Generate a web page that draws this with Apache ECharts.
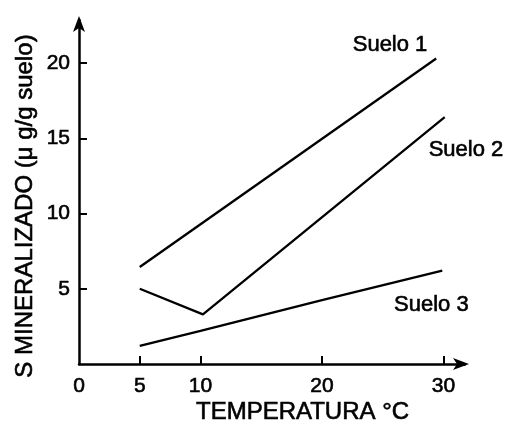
<!DOCTYPE html>
<html>
<head>
<meta charset="utf-8">
<script src="https://cdn.jsdelivr.net/npm/echarts@6/dist/echarts.min.js"></script>
<style>
html,body{margin:0;padding:0;background:#fff;}
#c{width:508px;height:424px;}
</style>
</head>
<body>
<div id="c"></div>
<script>
// Data
const suelo1 = [[5, 6.45], [29.4, 20.3]];
const suelo2 = [[5, 5.0], [10.2, 3.3], [30.1, 16.4]];
const suelo3 = [[5, 1.2], [10, 2.2], [20, 4.25], [29.9, 6.2]];
const xTickValues = [5, 10, 20, 30];
const xLabelValues = [0, 5, 10, 20, 30];
const yTickValues = [5, 10, 15, 20];
const seriesNames = ['Suelo 1', 'Suelo 2', 'Suelo 3'];
const labelAnchors = [[25.6, 21.23], [31.85, 14.25], [29.0, 3.93]];
const xTitle = 'TEMPERATURA °C';
const yTitle = 'S MINERALIZADO (μ g/g suelo)';

const FONT = '"Liberation Sans", Arial, Helvetica, sans-serif';
const chart = echarts.init(document.getElementById('c'), null, {renderer: 'canvas'});

const axisLineStyle = {color: '#000', width: 2.5};
const thick = {textBorderColor: '#000', textBorderWidth: 0.6};

const option = {
  animation: false,
  backgroundColor: '#fff',
  grid: {left: 79, top: 20, right: 43, bottom: 60, containLabel: false},
  xAxis: {
    type: 'value', min: 0, max: 31.77, interval: 5,
    axisLine: {show: true, onZero: false, lineStyle: axisLineStyle, symbol: ['none', 'arrow'], symbolSize: [9, 16], symbolOffset: [0, 4]},
    axisTick: {show: true, inside: true, length: 8, lineStyle: {color: '#000', width: 2}, customValues: xTickValues},
    axisLabel: Object.assign({show: true, margin: 12, color: '#000', fontSize: 21, fontFamily: FONT, customValues: xLabelValues,
      formatter: v => (xLabelValues.indexOf(v) >= 0 ? String(v) : '')}, thick),
    splitLine: {show: false}
  },
  yAxis: {
    type: 'value', min: 0, max: 22.86, interval: 5,
    axisLine: {show: true, onZero: false, lineStyle: axisLineStyle, symbol: ['none', 'arrow'], symbolSize: [9, 16], symbolOffset: [0, 4]},
    axisTick: {show: true, inside: true, length: 8, lineStyle: {color: '#000', width: 2}, customValues: yTickValues},
    axisLabel: Object.assign({show: true, margin: 9, color: '#000', fontSize: 21, fontFamily: FONT, customValues: yTickValues,
      formatter: v => (yTickValues.indexOf(v) >= 0 ? String(v) : '')}, thick),
    splitLine: {show: false}
  },
  series: [suelo1, suelo2, suelo3].map((d, i) => ({
    name: seriesNames[i], type: 'line', data: d, symbol: 'none', smooth: false,
    lineStyle: {color: '#000', width: 2.3}, silent: true
  }))
};
chart.setOption(option);

const graphics = [];
labelAnchors.forEach((a, i) => {
  const p = chart.convertToPixel({gridIndex: 0}, a);
  graphics.push({type: 'text', x: p[0], y: p[1], silent: true,
    style: Object.assign({text: seriesNames[i], font: '22px ' + FONT, fill: '#000', align: 'center', verticalAlign: 'middle'}, {stroke: '#000', lineWidth: 0.6})});
});
const xMid = chart.convertToPixel({gridIndex: 0}, [18.4, 0]);
graphics.push({type: 'text', x: xMid[0], y: 412, silent: true,
  style: {text: xTitle, font: '24px ' + FONT, fill: '#000', align: 'center', verticalAlign: 'middle', stroke: '#000', lineWidth: 0.6}});
graphics.push({type: 'text', x: 25, y: 206, rotation: Math.PI / 2, silent: true,
  style: {text: yTitle, font: '24px ' + FONT, fill: '#000', align: 'center', verticalAlign: 'middle', stroke: '#000', lineWidth: 0.6}});
chart.setOption({graphic: graphics});
</script>
</body>
</html>
